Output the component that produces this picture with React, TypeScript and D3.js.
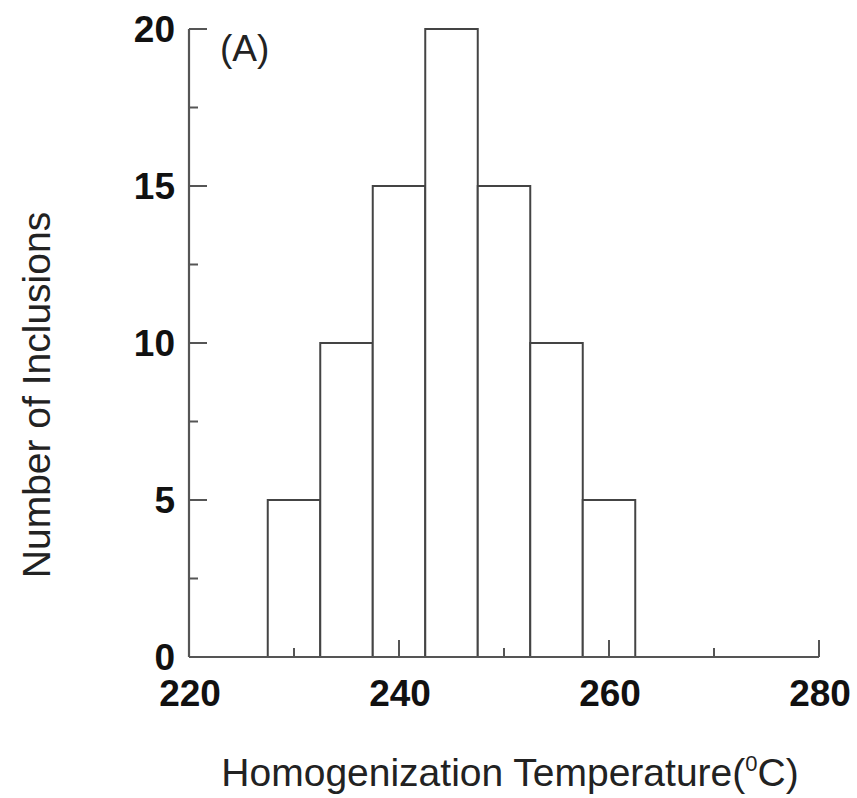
import React from "react";
import * as d3 from "d3";

const binCenters = [230, 235, 240, 245, 250, 255, 260];
const counts = [5, 10, 15, 20, 15, 10, 5];
const binWidth = 5;
const xMajorTicks = [220, 240, 260, 280];
const xMinorTicks = [230, 250, 270];
const yMajorTicks = [0, 5, 10, 15, 20];
const yMinorTicks = [2.5, 7.5, 12.5, 17.5];
const xTitle = "Homogenization Temperature(";
const yTitle = "Number of Inclusions";
const panelLabel = "(A)";

export default function App() {
  const W = 857, H = 798;
  const x = d3.scaleLinear().domain([220, 280]).range([189, 819]);
  const y = d3.scaleLinear().domain([0, 20]).range([657, 29]);
  const axisColor = "#555";
  const barColor = "#444";
  const font = "'Liberation Sans', Arial, sans-serif";
  return (
    <svg width={W} height={H} style={{ position: "absolute", left: 0, top: 0, background: "#fff" }}>
      {binCenters.map((c, i) => (
        <rect key={i}
          x={x(c - binWidth / 2)} y={y(counts[i])}
          width={x(c + binWidth / 2) - x(c - binWidth / 2)}
          height={y(0) - y(counts[i])}
          fill="#fff" stroke={barColor} strokeWidth={2} />
      ))}
      <line x1={x(220)} x2={x(220)} y1={y(20)} y2={y(0)} stroke={axisColor} strokeWidth={2.2} />
      <line x1={x(220)} x2={x(280)} y1={y(0)} y2={y(0)} stroke={axisColor} strokeWidth={2.2} />
      {yMajorTicks.map(t => (
        <g key={"ym" + t}>
          <line x1={x(220)} x2={x(220) + 18} y1={y(t)} y2={y(t)} stroke={axisColor} strokeWidth={2} />
          <text x={175} y={y(t)} dy="0.36em" textAnchor="end" fontFamily={font} fontWeight="bold" fontSize={37} fill="#111">{t}</text>
        </g>
      ))}
      {yMinorTicks.map(t => (
        <line key={"yn" + t} x1={x(220)} x2={x(220) + 9} y1={y(t)} y2={y(t)} stroke={axisColor} strokeWidth={2} />
      ))}
      {xMajorTicks.map(t => (
        <g key={"xm" + t}>
          {t !== 220 && <line x1={x(t)} x2={x(t)} y1={y(0)} y2={y(0) - 17} stroke={axisColor} strokeWidth={2} />}
          <text x={x(t) + 1} y={706} textAnchor="middle" fontFamily={font} fontWeight="bold" fontSize={37} fill="#111">{t}</text>
        </g>
      ))}
      {xMinorTicks.map(t => (
        <line key={"xn" + t} x1={x(t)} x2={x(t)} y1={y(0)} y2={y(0) - 9} stroke={axisColor} strokeWidth={2} />
      ))}
      <text x={510} y={786} textAnchor="middle" fontFamily={font} fontSize={39} fill="#222">
        {xTitle}
        <tspan fontSize={22} dy={-15}>0</tspan>
        <tspan dy={15}>C)</tspan>
      </text>
      <text transform="translate(50,395) rotate(-90)" textAnchor="middle" fontFamily={font} fontSize={39} fill="#222">{yTitle}</text>
      <text x={220} y={61} fontFamily={font} fontSize={37} fill="#222">{panelLabel}</text>
    </svg>
  );
}
